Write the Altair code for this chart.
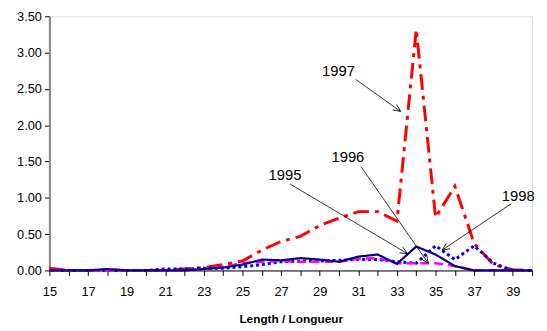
import altair as alt
import pandas as pd
import numpy as np

lengths = list(range(15, 41))
y1995 = [0.00,0.00,0.00,0.02,0.00,0.00,0.00,0.00,0.02,0.04,0.08,0.15,0.14,0.17,0.15,0.12,0.19,0.22,0.09,0.33,0.22,0.06,0.00,0.00,0.00,0.00]
y1996 = [0.00,0.00,0.00,0.00,0.00,0.00,0.00,0.00,0.02,0.05,0.10,0.12,0.13,0.12,0.12,0.12,0.16,0.17,0.10,0.10,0.10,0.06,0.00,0.00,0.00,0.00]
y1997 = [0.03,0.00,0.00,0.01,0.00,0.00,0.00,0.02,0.04,0.08,0.13,0.28,0.40,0.47,0.62,0.72,0.81,0.81,0.68,3.32,0.73,1.16,0.37,0.08,0.01,0.00]
y1998 = [0.00,0.00,0.00,0.00,0.00,0.00,0.02,0.02,0.03,0.03,0.05,0.08,0.12,0.13,0.13,0.14,0.15,0.15,0.12,0.10,0.34,0.15,0.34,0.10,0.00,0.00]

years = ["1995", "1996", "1997", "1998"]
colors = ["#000080", "#FF00FF", "#FF0000", "#0000FF"]
dashes = [[1, 0], [9, 5], [16, 6, 4, 6], [3, 3]]
widths = [2.2, 2.5, 3, 3]
series = [y1995, y1996, y1997, y1998]
y_ticks = [0, 0.5, 1, 1.5, 2, 2.5, 3, 3.5]

# annotation labels
lab_text = ["1997", "1996", "1995", "1998"]
lab_x = [29.97, 30.46, 27.2, 39.28]
lab_y = [2.74, 1.56, 1.31, 1.03]
arr_x1 = [30.87, 31.14, 27.47, 38.92]
arr_y1 = [2.63, 1.43, 1.19, 0.92]
arr_x2 = [33.19, 34.62, 33.55, 35.34]
arr_y2 = [2.19, 0.10, 0.23, 0.28]

W, H = 490, 258
XD = [15, 40]
YD = [0, 3.5]

xs = alt.Scale(domain=XD, nice=False, zero=False)
ys = alt.Scale(domain=YD, nice=False)

xaxis = alt.Axis(values=lengths, labelExpr="datum.value % 2 == 1 ? datum.value : ''",
                 title="Length / Longueur", titleFontWeight="bold", titleFontSize=12,
                 titleFont="Liberation Sans", labelFont="Liberation Sans", labelFontSize=13,
                 titlePadding=16, domainColor="black", tickColor="black", tickSize=5,
                 labelColor="black", titleColor="black", grid=False, labelPadding=10,
                 labelFlush=False, labelOverlap=False)
yaxis = alt.Axis(values=y_ticks, labelExpr="format(datum.value, '.2f')", title=None,
                 labelFont="Liberation Sans", labelFontSize=13, labelColor="black",
                 domainColor="#808080", domainWidth=2, tickColor="black", tickSize=5,
                 grid=False, labelPadding=3, labelFlush=False, labelOverlap=False)

layers = []
order = [2, 3, 1, 0]
for i in order:
    df = pd.DataFrame({"L": lengths, "v": series[i]})
    layers.append(
        alt.Chart(df).mark_line(color=colors[i], strokeWidth=widths[i], strokeDash=dashes[i])
        .encode(
            x=alt.X("L:Q", scale=xs, axis=xaxis),
            y=alt.Y("v:Q", scale=ys, axis=yaxis),
        )
    )

# arrows
ang = []
for k in range(4):
    dx = (arr_x2[k] - arr_x1[k]) / (XD[1] - XD[0]) * W
    dy = -(arr_y2[k] - arr_y1[k]) / (YD[1] - YD[0]) * H
    ang.append(float(np.degrees(np.arctan2(dx, -dy)) % 360))

adf = pd.DataFrame({"t": lab_text, "lx": lab_x, "ly": lab_y, "x1": arr_x1, "y1": arr_y1,
                    "x2": arr_x2, "y2": arr_y2, "ang": ang})

rules = alt.Chart(adf).mark_rule(color="black", strokeWidth=0.8).encode(
    x=alt.X("x1:Q", scale=xs, axis=xaxis), y=alt.Y("y1:Q", scale=ys, axis=yaxis), x2="x2:Q", y2="y2:Q")
heads = alt.Chart(adf).mark_point(shape="M -0.45 1 L 0 0 L 0.45 1", filled=False, color="black",
                                   strokeWidth=0.8, size=220, opacity=1).encode(
    x=alt.X("x2:Q", scale=xs, axis=xaxis), y=alt.Y("y2:Q", scale=ys, axis=yaxis),
    angle=alt.Angle("ang:Q", scale=None))
texts = alt.Chart(adf).mark_text(font="Liberation Sans", fontSize=15, color="black").encode(
    x=alt.X("lx:Q", scale=xs, axis=xaxis), y=alt.Y("ly:Q", scale=ys, axis=yaxis), text="t:N")

chart = alt.layer(*layers, rules, heads, texts).properties(
    width=W, height=H, autosize=alt.AutoSizeParams(type="none"),
    padding={"left": 42, "top": 6, "right": 7, "bottom": 56}
).configure_view(stroke=None).configure(background="white")

chart.save("out.html", embed_options={"renderer": "svg", "actions": False})
